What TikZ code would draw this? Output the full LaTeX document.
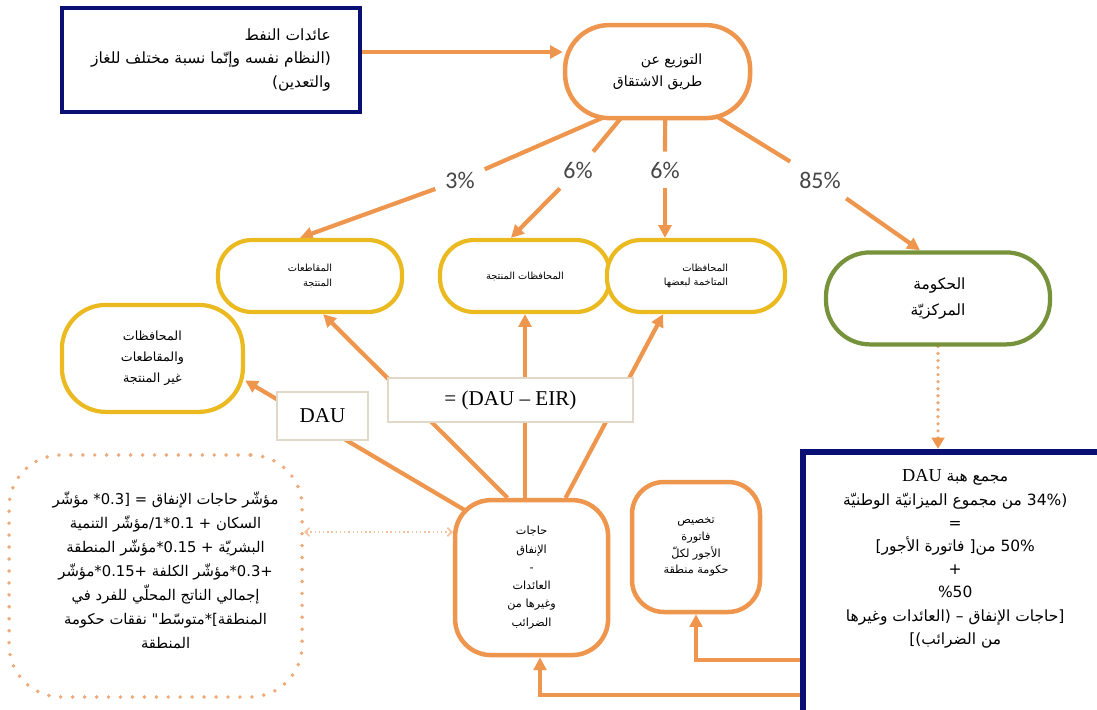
\documentclass[tikz,border=0pt]{standalone}
\usepackage{fontspec}
\setmainfont{Liberation Serif}
\newfontfamily\arfont[Script=Arabic]{DejaVu Sans}
\newfontfamily\pctfont{Carlito}
\TeXXeTstate=1
\usetikzlibrary{arrows.meta, positioning, calc}
\definecolor{navy}{RGB}{10,15,115}
\definecolor{orng}{RGB}{238,150,78}
\definecolor{gold}{RGB}{234,186,32}
\definecolor{olive}{RGB}{118,146,58}
\definecolor{beige}{RGB}{226,216,200}
\definecolor{salmon}{RGB}{238,170,120}
\definecolor{txtgray}{RGB}{70,70,70}
\pgfdeclarelayer{bg}
\pgfsetlayers{bg,main}

\begin{document}
\begin{tikzpicture}[
    navybox/.style={draw=navy, line width=3.5pt, fill=white},
    orngnode/.style={draw=orng, line width=3.2pt, fill=white},
    pill/.style={draw=gold, line width=3pt, fill=white, rounded corners=0.85cm, minimum height=1.8cm, align=right, font=\arfont\fontsize{7}{10.5}\selectfont},
    greenpill/.style={draw=olive, line width=3pt, fill=white, rounded corners=1.1cm},
    labelbox/.style={draw=beige, line width=0.9pt, fill=white, text=black, font=\fontsize{15}{18}\selectfont},
    pct/.style={text=txtgray, inner sep=7pt, font=\pctfont\fontsize{17}{20}\selectfont},
    dotbox/.style={draw=salmon, line width=2.8pt, dash pattern=on 0pt off 8.5pt, line cap=round, rounded corners=1.3cm},
    link/.style={draw=orng, line width=3pt},
    conn/.style={link, -{Triangle[length=9pt,width=9pt]}},
    dotconn/.style={draw=salmon!90!orng, line width=2.6pt, dash pattern=on 0pt off 5pt, line cap=round, -{Triangle[length=8pt,width=9pt,color=orng]}},
    dblconn/.style={draw=salmon!70, line width=1.2pt, dash pattern=on 1pt off 2pt, {Straight Barb[length=3pt]}-{Straight Barb[length=3pt]}}
]
\useasboundingbox (0,0) rectangle (27.425,-17.725);

\node[navybox, minimum width=7.45cm, minimum height=2.6cm, align=right, font=\arfont\fontsize{11}{17}\selectfont] (oil) at (5.275,-1.5)
  {\beginR عائدات النفط\endR\\
   \beginR (النظام نفسه وإنّما نسبة مختلف للغاز\endR\\
   \beginR والتعدين)\endR};
\node[orngnode, rounded corners=1.1cm, minimum width=4.625cm, minimum height=2.325cm, align=right, font=\arfont\fontsize{10}{15.5}\selectfont] (dist) at (16.44,-1.79)
  {\beginR التوزيع عن\endR\\\beginR طريق الاشتقاق\endR};

\node[pct] (p3) at (11.5,-4.5) {3\%};
\node[pct] (p6a) at (14.45,-4.25) {6\%};
\node[pct] (p6b) at (16.625,-4.25) {6\%};
\node[pct] (p85) at (20.5,-4.5) {85\%};

\node[pill, minimum width=4.6cm] (prodreg) at (7.75,-6.9) {\beginR المقاطعات\endR\\\beginR المنتجة\endR};
\node[pill, minimum width=4.25cm] (prodgov) at (13.125,-6.9) {\beginR المحافظات المنتجة\endR};
\node[pill, minimum width=4.45cm] (adjgov) at (17.4,-6.9) {\beginR المحافظات\endR\\\beginR المتاخمة لبعضها\endR};
\node[pill, minimum width=4.525cm, minimum height=2.675cm, rounded corners=1.1cm, align=center, font=\arfont\fontsize{9}{15}\selectfont] (nonprod) at (3.81,-8.96)
  {\beginR المحافظات\endR\\\beginR والمقاطعات\endR\\\beginR غير المنتجة\endR};
\node[greenpill, minimum width=5.6cm, minimum height=2.3cm, align=right, font=\arfont\fontsize{11}{19}\selectfont] (central) at (23.45,-7.46)
  {\beginR الحكومة\endR\\\beginR المركزيّة\endR};

\node[labelbox, minimum width=2.275cm, minimum height=1.2cm] (dau) at (8.06,-10.4) {DAU};
\node[labelbox, minimum width=6.125cm, minimum height=1.1cm] (eir) at (12.76,-10.0) {= (DAU – EIR)};

\node[orngnode, rounded corners=0.9cm, minimum width=3.825cm, minimum height=3.875cm, align=center, font=\arfont\fontsize{8}{13}\selectfont] (needs) at (13.29,-14.44)
  {\beginR حاجات\endR\\\beginR الإنفاق\endR\\-\\\beginR العائدات\endR\\\beginR وغيرها من\endR\\\beginR الضرائب\endR};
\node[orngnode, rounded corners=0.8cm, minimum width=3.2cm, minimum height=3.25cm, align=center, font=\arfont\fontsize{8}{12}\selectfont] (wages) at (17.4,-13.675)
  {\beginR تخصيص\endR\\\beginR فاتورة\endR\\\beginR الأجور لكلّ\endR\\\beginR حكومة منطقة\endR};

\node[dotbox, minimum width=7.325cm, minimum height=6.05cm] (index) at (3.89,-14.4) {};
\node[align=center, font=\arfont\fontsize{10.5}{17}\selectfont] (indextxt) at ([xshift=0.25cm,yshift=0.15cm]index.center)
  {\beginR مؤشّر حاجات الإنفاق = [0.3* مؤشّر\endR\\
   \beginR السكان + 0.1*1/مؤشّر التنمية\endR\\
   \beginR البشريّة + 0.15*مؤشّر المنطقة\endR\\
   \beginR +0.3*مؤشّر الكلفة +0.15*مؤشّر\endR\\
   \beginR إجمالي الناتج المحلّي للفرد في\endR\\
   \beginR المنطقة]*متوسّط" نفقات حكومة\endR\\
   \beginR المنطقة\endR};

\node[navybox, line width=4.5pt, minimum width=7.925cm, minimum height=6.95cm] (pool) at (24.04,-14.775) {};
\node[align=center, anchor=north, font=\arfont\fontsize{11}{16.5}\selectfont] (pooltxt) at ([xshift=-0.16cm,yshift=-0.4cm]pool.north)
  {\beginR مجمع هبة {\rmfamily\fontsize{13}{16.5}\selectfont DAU}\endR\\
   \beginR (34\% من مجموع الميزانيّة الوطنيّة\endR\\
   =\\
   \beginR 50\% من[ فاتورة الأجور]\endR\\
   +\\
   \%50\\
   \beginR [حاجات الإنفاق – (العائدات وغيرها\endR\\
   \beginR من الضرائب)]\endR};

\coordinate (oilout) at ([yshift=0.2cm]oil.east);
\coordinate (ixout) at ([yshift=1.1cm]index.east);

\begin{pgfonlayer}{bg}
\draw[conn] (oilout) -- (oilout -| dist.west);
\draw[link] ([xshift=-0.49cm,yshift=0.45cm]dist.south) -- (p3);
\draw[conn] (p3) -- ([xshift=-0.25cm]prodreg.north);
\draw[link] ([xshift=-0.59cm,yshift=0.45cm]dist.south) -- (p6a);
\draw[conn] (p6a) -- ([xshift=-0.35cm]prodgov.north);
\draw[link] ([xshift=0.19cm,yshift=0.45cm]dist.south) -- (p6b);
\draw[conn] (p6b) -- (p6b |- adjgov.north);
\draw[link] ([xshift=0.91cm,yshift=0.45cm]dist.south) -- (p85);
\draw[conn] (p85) -- ([xshift=-0.45cm]central.north);
\draw[conn] ([yshift=0.7cm]needs.center) -- ([yshift=-0.55cm]nonprod.east);
\draw[conn] ([xshift=-0.6cm]needs.north) -- ([xshift=0.33cm]prodreg.south);
\draw[conn] (needs.north -| prodgov.south) -- (prodgov.south);
\draw[conn] ([xshift=0.85cm]needs.north) -- ([xshift=-0.82cm]adjgov.south);
\draw[dotconn] (central.south) -- (central.south |- pool.north);
\draw[dblconn] (ixout) -- (ixout -| needs.west);
\draw[conn] ([yshift=-2.6cm]pool.west) -| ([xshift=0.21cm]needs.south);
\draw[conn] ([yshift=-1.725cm]pool.west) -| (wages.south);
\end{pgfonlayer}
\end{tikzpicture}
\end{document}
